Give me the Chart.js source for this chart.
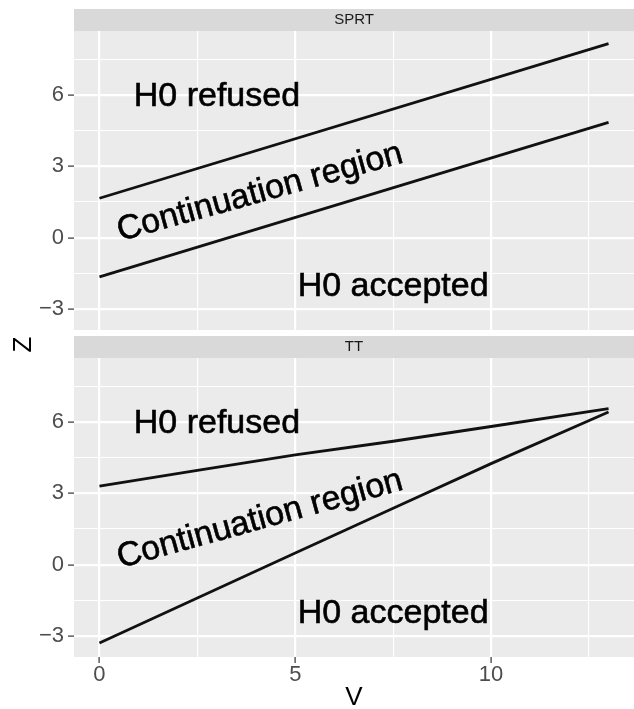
<!DOCTYPE html>
<html>
<head>
<meta charset="utf-8">
<script src="https://cdn.jsdelivr.net/npm/chart.js@4/dist/chart.umd.min.js"></script>
<style>
  html, body { margin: 0; padding: 0; background: #ffffff; }
  #wrap { position: relative; width: 634px; height: 709px; }
  #wrap canvas { position: absolute; left: 0; top: 0; }
</style>
</head>
<body>
<div id="wrap">
  <canvas id="sprt" width="634" height="709"></canvas>
  <canvas id="tt" width="634" height="709"></canvas>
</div>
<script>
// Boundary lines of the two sequential tests (V on x, Z on y)
const vSprt = [0, 13];
const sprtUpper = [1.66, 8.16];
const sprtLower = [-1.65, 4.85];

const vTT = [0, 2.5, 5, 7.5, 10, 13];
const ttUpper = [3.30, 3.97, 4.62, 5.19, 5.81, 6.56];
const ttLower = [-3.29, -1.40, 0.49, 2.37, 4.25, 6.42];

// Axis breaks
const xTicks = [0, 5, 10];
const xMinor = [2.5, 7.5, 12.5];
const yTicks = [-3, 0, 3, 6];
const yMinor = [-1.5, 1.5, 4.5, 7.5];

// Region labels (same placement in both panels)
const regionLabels = ['H0 refused', 'Continuation region', 'H0 accepted'];
const labelV = [3, 4.1, 7.5];
const labelZ = [5.95, 1.9, -2.05];
const labelAngle = [0, 15.5, 0];

const FONT = "'Liberation Sans', Arial, Helvetica, sans-serif";
Chart.defaults.font.family = FONT;

const fmt = v => (v < 0 ? '\u2212' + Math.abs(v) : String(v));

function toPoints(xs, ys) {
  return xs.map((x, i) => ({ x: x, y: ys[i] }));
}

const panelPlugin = {
  id: 'panel',
  beforeDraw(chart, args, opts) {
    const { ctx, chartArea: a } = chart;
    ctx.save();
    ctx.fillStyle = '#EBEBEB';
    ctx.fillRect(a.left, a.top, a.right - a.left, a.bottom - a.top);
    // facet strip
    ctx.fillStyle = '#D9D9D9';
    ctx.fillRect(a.left, a.top - 22, a.right - a.left, 22);
    ctx.fillStyle = '#1A1A1A';
    ctx.font = '15px ' + FONT;
    ctx.textAlign = 'center';
    ctx.textBaseline = 'middle';
    ctx.fillText(opts.strip, (a.left + a.right) / 2, a.top - 11);
    ctx.restore();
  },
  afterDatasetsDraw(chart, args, opts) {
    const { ctx } = chart;
    const xs = chart.scales.x, ys = chart.scales.y;
    ctx.save();
    ctx.fillStyle = '#000000';
    ctx.strokeStyle = '#000000';
    ctx.lineWidth = 0.6;
    ctx.font = '34px ' + FONT;
    ctx.textAlign = 'center';
    ctx.textBaseline = 'middle';
    regionLabels.forEach((t, i) => {
      ctx.save();
      ctx.translate(xs.getPixelForValue(labelV[i]), ys.getPixelForValue(labelZ[i]));
      ctx.rotate(-labelAngle[i] * Math.PI / 180);
      ctx.fillText(t, 0, 0);
      ctx.strokeText(t, 0, 0);
      ctx.restore();
    });
    if (opts.yTitle) {
      ctx.font = '26px ' + FONT;
      ctx.translate(24, 344.5);
      ctx.rotate(-Math.PI / 2);
      ctx.fillText(opts.yTitle, 0, 0);
    }
    ctx.restore();
  }
};

function makePanel(id, strip, series, showX, padding, xHeight, yTitle) {
  const isMajorX = v => xTicks.includes(v);
  const isMajorY = v => yTicks.includes(v);
  return new Chart(document.getElementById(id), {
    type: 'scatter',
    data: {
      datasets: series.map(s => ({
        data: toPoints(s.x, s.y),
        showLine: true,
        borderColor: '#111111',
        borderWidth: 2.8,
        pointRadius: 0,
        tension: 0,
        borderCapStyle: 'butt'
      }))
    },
    options: {
      responsive: false,
      animation: false,
      events: [],
      layout: { padding: padding, autoPadding: false },
      plugins: {
        legend: { display: false },
        tooltip: { enabled: false },
        panel: { strip: strip, yTitle: yTitle }
      },
      scales: {
        x: {
          type: 'linear',
          min: -0.65,
          max: 13.65,
          afterBuildTicks: s => { s.ticks = xTicks.concat(xMinor).sort((a, b) => a - b).map(v => ({ value: v })); },
          afterFit: s => { s.height = xHeight; },
          border: { display: false },
          grid: {
            color: '#FFFFFF',
            lineWidth: c => (isMajorX(c.tick.value) ? 2.2 : 1.1),
            drawTicks: showX,
            tickLength: 6,
            tickColor: c => (isMajorX(c.tick.value) ? '#333333' : 'rgba(0,0,0,0)'),
            tickWidth: 1.2
          },
          ticks: {
            display: showX,
            autoSkip: false,
            maxRotation: 0,
            padding: 1,
            color: '#4D4D4D',
            font: { size: 22, lineHeight: 1 },
            callback: v => (isMajorX(v) ? fmt(v) : '')
          },
          title: {
            display: showX,
            text: 'V',
            color: '#000000',
            padding: 0,
            font: { size: 26, lineHeight: 0.85 }
          }
        },
        y: {
          type: 'linear',
          min: -3.88,
          max: 8.69,
          afterBuildTicks: s => { s.ticks = yTicks.concat(yMinor).sort((a, b) => a - b).map(v => ({ value: v })); },
          afterFit: s => { s.width = 74; },
          border: { display: false },
          grid: {
            color: '#FFFFFF',
            lineWidth: c => (isMajorY(c.tick.value) ? 2.2 : 1.1),
            drawTicks: true,
            tickLength: 6,
            tickColor: c => (isMajorY(c.tick.value) ? '#333333' : 'rgba(0,0,0,0)'),
            tickWidth: 1.2
          },
          ticks: {
            autoSkip: false,
            padding: 4,
            color: '#4D4D4D',
            font: { size: 22 },
            callback: v => (isMajorY(v) ? fmt(v) : '')
          }
        }
      }
    },
    plugins: [panelPlugin]
  });
}

makePanel('sprt', 'SPRT',
  [{ x: vSprt, y: sprtUpper }, { x: vSprt, y: sprtLower }],
  false, { top: 31, bottom: 379, left: 0, right: 0 }, 0, null);

makePanel('tt', 'TT',
  [{ x: vTT, y: ttUpper }, { x: vTT, y: ttLower }],
  true, { top: 358, bottom: 0, left: 0, right: 0 }, 52, 'Z');
</script>
</body>
</html>
